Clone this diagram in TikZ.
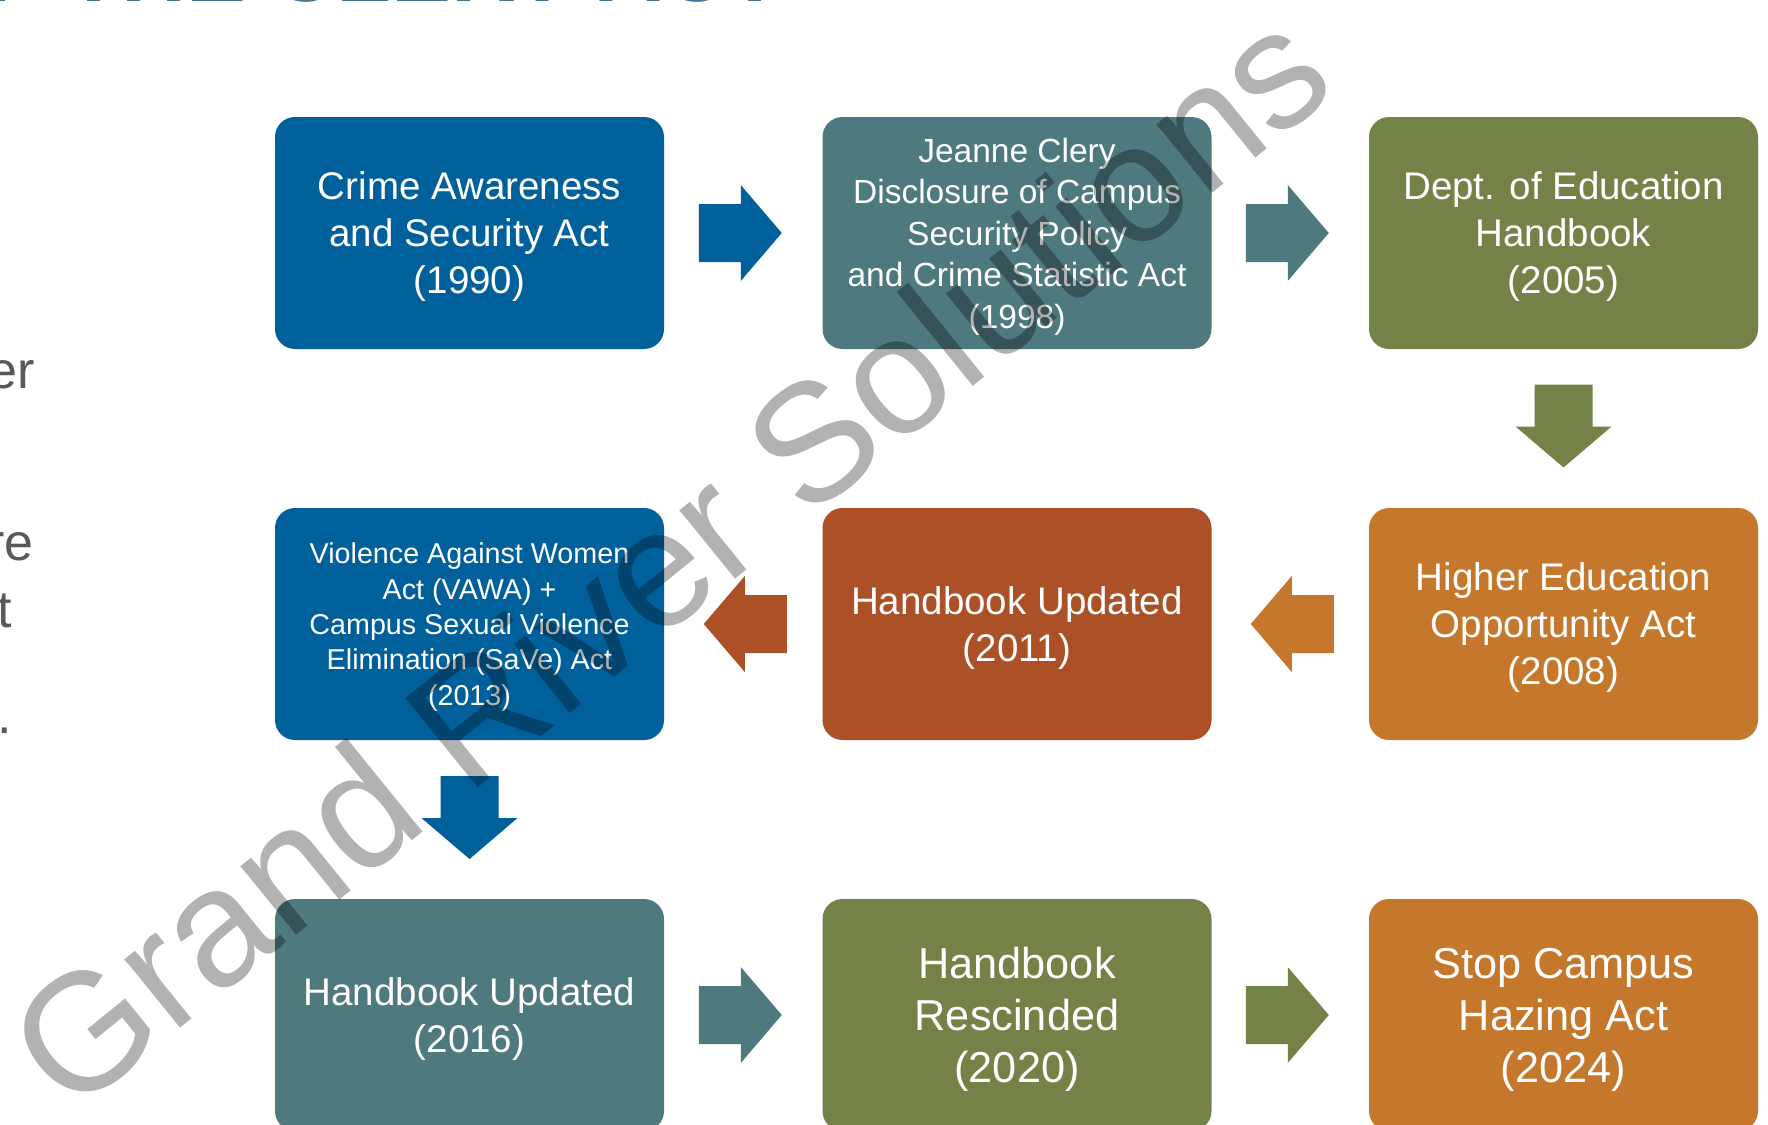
\documentclass[tikz,border=0pt]{standalone}
\usepackage{fontspec}
\setmainfont{Liberation Sans}
\usetikzlibrary{calc}
\definecolor{cblue}{HTML}{00609C}
\definecolor{cteal}{HTML}{4E797F}
\definecolor{colive}{HTML}{738247}
\definecolor{corange}{HTML}{C5782B}
\definecolor{crust}{HTML}{AB5027}
\definecolor{ctitle}{HTML}{4A7594}
\definecolor{cgray}{HTML}{595959}
\tikzset{
  box/.style={rectangle, rounded corners=20pt, minimum width=389pt, minimum height=232pt,
    inner sep=0pt, text=white, align=center, text depth=0pt},
  fbig/.style={font=\fontsize{38.5}{47}\selectfont},
  fmid/.style={font=\fontsize{33.5}{41.5}\selectfont},
  fsmall/.style={font=\fontsize{28.7}{35.3}\selectfont},
  fhuge/.style={font=\fontsize{43.3}{52}\selectfont},
  sidetext/.style={anchor=base east, inner sep=0pt, text=cgray, font=\fontsize{52}{65}\selectfont},
  blockarrow/.pic={\fill[pic actions] (-41.5,-29) -- (0.5,-29) -- (0.5,-48) -- (41.5,0)
      -- (0.5,48) -- (0.5,29) -- (-41.5,29) -- cycle;}
}
\begin{document}
\begin{tikzpicture}[x=1pt,y=-1pt]
\useasboundingbox (0,0) rectangle (1768,1124);
\fill[white] (0,0) rectangle (1768,1124);

% partially visible title and side text
\node[anchor=base west, inner sep=0pt, text=ctitle, font=\bfseries\fontsize{90}{90}\selectfont]
  (title) at (-84,1.5) {OF THE CLERY ACT};
\node[sidetext] (s1) at (35,388) {er};
\node[sidetext] (s2) at (34,560) {re};
\node[sidetext] (s3) at (12,627) {t};
\node[sidetext] (s4) at (12,733) {.};

% boxes
\node[box, fill=cblue, fbig] (b1) at (469.5,233) {Crime Awareness\\and Security Act\\(1990)};
\node[box, fill=cteal, fmid] (b2) at (1017,233) {Jeanne Clery\\Disclosure of Campus\\Security Policy\\and Crime Statistic Act\\(1998)};
\node[box, fill=colive, fbig] (b3) at (1563.5,233) {Dept. of Education\\Handbook\\(2005)};
\node[box, fill=corange, fbig] (b4) at (1563.5,624) {Higher Education\\Opportunity Act\\(2008)};
\node[box, fill=crust, fbig] (b5) at (1017,624) {Handbook Updated\\(2011)};
\node[box, fill=cblue, fsmall] (b6) at (469.5,624) {Violence Against Women\\Act (VAWA) +\\Campus Sexual Violence\\Elimination (SaVe) Act\\(2013)};
\node[box, fill=cteal, fbig] (b7) at (469.5,1015) {Handbook Updated\\(2016)};
\node[box, fill=colive, fhuge] (b8) at (1017,1015) {Handbook\\Rescinded\\(2020)};
\node[box, fill=corange, fhuge] (b9) at (1563.5,1015) {Stop Campus\\Hazing Act\\(2024)};

% block arrows between boxes
\pic[fill=cblue] at ($($(b1.east)!0.5!(b2.west)$)+(-3,0)$) {blockarrow};
\pic[fill=cteal] at ($($(b2.east)!0.5!(b3.west)$)+(-3,0)$) {blockarrow};
\pic[fill=colive, rotate=-90] at ($($(b3.south)!0.5!(b4.north)$)+(0,-2.5)$) {blockarrow};
\pic[fill=corange, rotate=180] at ($($(b4.west)!0.5!(b5.east)$)+(2,0)$) {blockarrow};
\pic[fill=crust, rotate=180] at ($($(b5.west)!0.5!(b6.east)$)+(2,0)$) {blockarrow};
\pic[fill=cblue, rotate=-90] at ($($(b6.south)!0.5!(b7.north)$)+(0,-2)$) {blockarrow};
\pic[fill=cteal] at ($($(b7.east)!0.5!(b8.west)$)+(-3,0)$) {blockarrow};
\pic[fill=colive] at ($($(b8.east)!0.5!(b9.west)$)+(-3,0)$) {blockarrow};

% watermark
\node[rotate=39, inner sep=0pt, text=black, text opacity=0.3, font=\fontsize{167}{167}\selectfont]
  (wm) at (668,557) {Grand River Solutions};
\end{tikzpicture}
\end{document}
